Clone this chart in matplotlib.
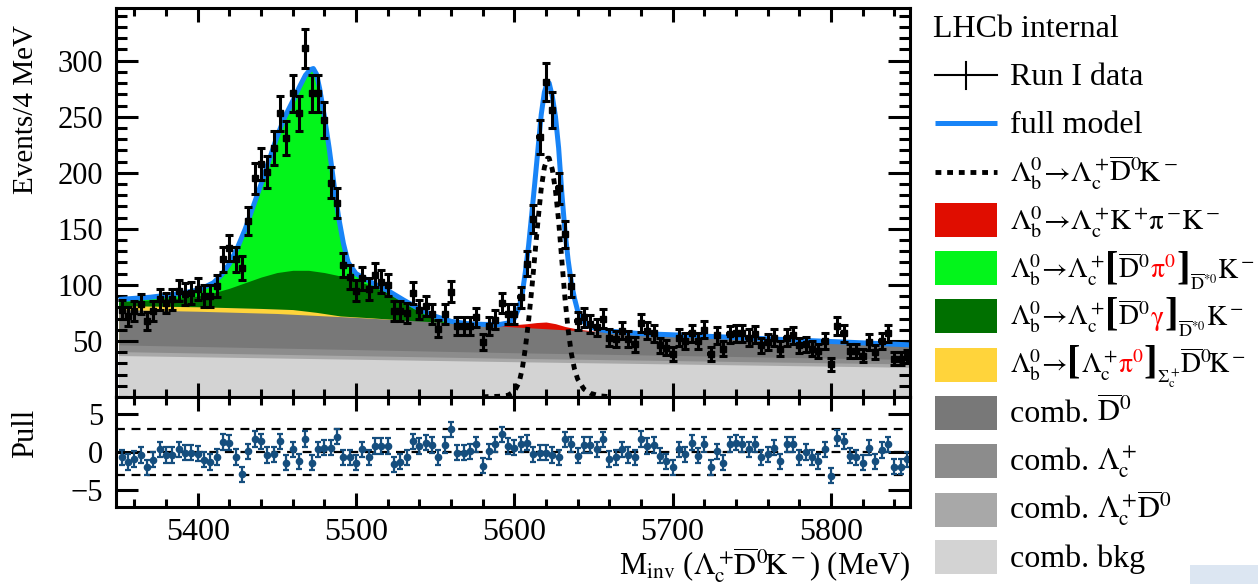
import numpy as np
import matplotlib.pyplot as plt
from matplotlib.lines import Line2D
from matplotlib.patches import Rectangle
from matplotlib.ticker import MultipleLocator

plt.rcParams['font.family'] = ['Liberation Serif', 'DejaVu Serif']
plt.rcParams['mathtext.fontset'] = 'stix'

W, H = 1258, 584

# ---- binned data, 4 MeV bins from 5350 to 5850 ----
bin_start, bin_width = 5350, 4
counts = [78, 72, 77, 83, 68, 77, 87, 84, 87, 95, 92, 93, 96, 90, 90, 99,
          123, 133, 123, 115, 157, 195, 208, 201, 222, 253, 231, 271, 253, 311,
          271, 271, 247, 191, 173, 118, 107, 95, 106, 96, 109, 103, 100, 77,
          77, 75, 93, 78, 81, 74, 61, 74, 94, 63, 63, 63, 71, 49, 63, 69, 84,
          74, 74, 89, 119, 159, 232, 281, 256, 186, 145, 99, 68, 71, 65, 62,
          70, 53, 52, 59, 52, 47, 66, 59, 57, 46, 44, 38, 53, 50, 57, 50, 60,
          38, 55, 43, 56, 57, 57, 53, 56, 46, 49, 53, 43, 53, 55, 46, 47, 43,
          41, 50, 29, 63, 57, 41, 41, 37, 49, 40, 50, 57, 34, 34, 36]
pulls = [-0.7, -1.3, -0.9, -0.4, -2.0, -1.0, 0.35, -0.4, -0.4, 0.35, -0.1,
         -0.1, -0.2, -1.0, -1.3, -0.65, 1.3, 1.2, -0.65, -2.9, 0.1, 1.7, 1.4,
         -0.4, -0.3, 1.4, -1.4, 0.35, -1.2, 1.7, -1.4, 0.35, 0.55, 0.55, 2.0,
         -0.7, -0.7, -1.4, 0.35, -0.7, 0.8, 0.8, 0.8, -1.6, -1.25, -0.7, 1.4,
         0.8, 1.2, 0.9, -0.7, 0.9, 2.95, -0.1, -0.1, 0.1, 1.0, -1.8, 0.1, 1.0,
         2.3, 0.8, 0.55, 1.0, 1.2, -0.3, -0.1, -0.1, -0.4, -0.7, 1.65, 1.0,
         -0.5, 0.9, 0.9, 0.35, 1.65, -0.9, -0.7, 0.35, -0.4, -0.7, 1.7, 0.8,
         0.9, -0.5, -1.2, -2.0, 0.35, -0.3, 1.2, -0.5, 1.0, -2.0, 0.1, -1.4,
         1.0, 1.2, 1.0, 0.35, 1.0, -0.7, -0.3, 0.55, -1.2, 1.0, 1.0, -0.7, 0.0,
         -0.7, -1.2, 0.35, -3.1, 1.85, 1.4, -0.5, -0.7, -1.4, 0.55, -1.2, 0.25,
         1.0, -1.9, -1.9, -0.95]

# ---- fit model, each component curve is the running sum of the stack ----
bkg_x = [5350, 5600, 5850]
bkg_y = [37, 31.5, 26.5]
lcd_y = [40.5, 34.5, 29.5]
lc_y = [46.5, 39.5, 33.5]

combd_x = [5350, 5400, 5450, 5500, 5550, 5600, 5650, 5700, 5750, 5800, 5850]
combd_y = [78, 76.5, 74.5, 71, 67, 62.5, 58.5, 55, 52, 49, 46]

sigc_x = [5350, 5400, 5440, 5460, 5475, 5490, 5510, 5530]
sigc_y = [81.5, 80.5, 79, 78, 75.5, 72.3, 70.6, 68.6]

dgam_x = [5350, 5370, 5390, 5400, 5410, 5420, 5430, 5440, 5450, 5460, 5470,
          5480, 5490, 5500, 5510, 5520, 5530, 5540, 5550, 5556]
dgam_y = [85, 86.5, 88.5, 90, 93, 97, 102, 107, 111, 113, 113, 111, 108, 104,
          99, 93, 84, 76, 69, 66.5]

dpi0_x = [5350, 5370, 5390, 5400, 5405, 5410, 5415, 5420, 5425, 5430, 5435,
          5440, 5445, 5450, 5455, 5460, 5464, 5468, 5471, 5473, 5475, 5477,
          5480, 5483, 5486, 5489, 5492, 5495, 5500, 5505, 5510, 5520, 5530,
          5540, 5550, 5560, 5570, 5576]
dpi0_y = [87, 89, 92.5, 95.5, 98.5, 102, 109, 119, 133, 150, 170, 190, 211,
          232, 250, 264, 276, 287, 292, 293, 288, 275, 250, 222, 190, 160, 137,
          120, 110, 106, 102, 95, 86.5, 78.5, 72, 67.5, 65.5, 64.7]

kpik_x = [5570, 5580, 5590, 5600, 5608, 5614, 5620, 5626, 5632, 5640, 5650, 5660]
kpik_y = [65.2, 64.8, 64.4, 64.5, 65.4, 66.4, 66.9, 65.4, 62.9, 60.6, 58.8, 57.8]

sig_x = [5580, 5590, 5596, 5600, 5603, 5605, 5607, 5609, 5611, 5613, 5615,
         5617, 5619, 5621, 5622, 5624, 5626, 5628, 5630, 5632, 5634, 5636,
         5638, 5640, 5644, 5648, 5654, 5660]
sig_y = [0.2, 0.6, 1.5, 5, 13, 25, 44, 68, 96, 127, 158, 186, 205, 213, 213,
         203, 184, 157, 122, 88, 60, 39, 25, 16, 7, 3.3, 1, 0.3]

full_x = [5350, 5370, 5390, 5400, 5405, 5410, 5415, 5420, 5425, 5430, 5435,
          5440, 5445, 5450, 5455, 5460, 5464, 5468, 5471, 5473, 5475, 5477,
          5480, 5483, 5486, 5489, 5492, 5495, 5500, 5505, 5510, 5520, 5530,
          5540, 5550, 5560, 5570, 5580, 5590, 5596, 5600, 5603, 5605, 5607,
          5609, 5611, 5613, 5615, 5617, 5619, 5621, 5622, 5624, 5626, 5628,
          5630, 5632, 5634, 5636, 5638, 5640, 5644, 5648, 5654, 5660, 5680,
          5700, 5750, 5800, 5850]
full_y = [87, 89, 92.5, 95.5, 98.5, 102, 109, 119, 133, 150, 170, 190, 211,
          232, 250, 264, 276, 287, 292, 293, 288, 275, 250, 222, 190, 160, 137,
          120, 110, 106, 102, 95, 86.5, 78.5, 72, 67.5, 65.5, 64.8, 64.5, 66,
          70, 80, 92, 112, 135, 163, 192, 222, 252, 272, 281, 280, 268, 250,
          222, 182, 148, 122, 102, 88, 77, 67, 62.5, 60, 58.8, 56.5, 55.5, 52.5,
          49.5, 46.5]

c_blue = '#1884f7'
c_pull = '#154e7e'
layers = [  # drawn from the top of the stack downwards
    (dpi0_x, dpi0_y, '#03f51b'),
    (kpik_x, kpik_y, '#e00d00'),
    (dgam_x, dgam_y, '#007000'),
    (sigc_x, sigc_y, '#ffd43b'),
    (combd_x, combd_y, '#787878'),
    (bkg_x, lc_y, '#8c8c8c'),
    (bkg_x, lcd_y, '#a8a8a8'),
    (bkg_x, bkg_y, '#d3d3d3'),
]

fig = plt.figure(figsize=(W / 100, H / 100), dpi=100)
ax = fig.add_axes([115.5 / W, 1 - 397 / H, 794.5 / W, 389 / H])
axp = fig.add_axes([115.5 / W, 1 - 507 / H, 794.5 / W, 110 / H], sharex=ax)

centers = bin_start + bin_width / 2 + bin_width * np.arange(len(counts))
counts = np.array(counts, dtype=float)

for lx, ly, col in layers:
    ax.fill_between(lx, 0, ly, color=col, lw=0)
ax.plot(sig_x, sig_y, color='k', lw=3.5, dashes=(1.2, 1.2))
ax.plot(full_x, full_y, color=c_blue, lw=3.6, solid_capstyle='butt')
ax.errorbar(centers, counts, xerr=bin_width / 2, fmt='none', ecolor='k',
            elinewidth=2.6)
ax.errorbar(centers, counts, yerr=np.sqrt(counts), fmt='s', ms=5, color='k',
            ecolor='k', elinewidth=2.2, capsize=3, capthick=2.2)

ax.set_xlim(5348, 5850)
ax.set_ylim(0, 347)
ax.yaxis.set_major_locator(MultipleLocator(50))
ax.yaxis.set_minor_locator(MultipleLocator(10))
ax.xaxis.set_major_locator(MultipleLocator(100))
ax.xaxis.set_minor_locator(MultipleLocator(20))
ax.set_yticks([50, 100, 150, 200, 250, 300])

# pull panel
for yl in (-3, 0, 3):
    axp.axhline(yl, color='k', lw=1.6, dashes=(4, 3))
axp.errorbar(centers, pulls, yerr=1, fmt='o', ms=4.5, color=c_pull,
             ecolor=c_pull, elinewidth=1.6, capsize=2.5, capthick=1.6)
axp.set_ylim(-7.2, 7.2)
axp.set_yticks([-5, 0, 5])

for a in (ax, axp):
    for s in a.spines.values():
        s.set_linewidth(2.2)
    a.tick_params(which='both', direction='in', top=True, right=True,
                  width=2.2, labelsize=22)
    a.tick_params(axis='y', which='major', length=16, pad=9)
    a.tick_params(axis='y', which='minor', length=8)
    a.tick_params(axis='x', which='major', length=10, pad=8, labelsize=23)
    a.tick_params(axis='x', which='minor', length=5.5)
ax.tick_params(labelbottom=False)
axp.yaxis.set_minor_locator(MultipleLocator(100))

fig.text(26 / W, 1 - 25 / H, 'Events/4 MeV', rotation=90, ha='center',
         va='top', fontsize=21)
fig.text(26 / W, 1 - 409 / H, 'Pull', rotation=90, ha='center', va='top',
         fontsize=22)
fig.text(910 / W, 1 - 575 / H,
         r'M$_{\mathrm{inv}}$ ($\mathrm{\Lambda_c^+\!\overline{D}^0\!K^-}$) (MeV)',
         ha='right', va='baseline', fontsize=22)

# ---- legend, built by hand ----
renderer = fig.canvas.get_renderer()


def put_row(x, base, parts):
    for s, kw in parts:
        kw = dict(kw)
        dy = kw.pop('dy', 0)
        t = fig.text(x / W, 1 - (base + dy) / H, s, ha='left', va='baseline',
                     fontsize=kw.pop('fontsize', 21), **kw)
        x += t.get_window_extent(renderer).width


TXT = {'fontsize': 23}
M = {'fontsize': 20}
LB = {'fontsize': 29, 'fontweight': 'bold'}
RED = {'color': '#ff0000', 'fontsize': 20}
SUB = {'fontsize': 13, 'dy': 11}
lam = r'$\mathrm{\Lambda_b^0\!\rightarrow\!\Lambda_c^+}$'

put_row(933, 37, [('LHCb internal', TXT)])
rows = [
    (85, [('Run I data', TXT)]),
    (133, [('full model', TXT)]),
    (182, [(r'$\mathrm{\Lambda_b^0\!\rightarrow\!\Lambda_c^+\!\overline{D}^0\!K^-}$', {})]),
    (230, [(r'$\mathrm{\Lambda_b^0\!\rightarrow\!\Lambda_c^+\!K^+\!\pi^-\!K^-}$', {})]),
    (278, [(lam, M), ('[', LB), (r'$\mathrm{\overline{D}^0}$', M),
           (r'$\mathrm{\pi^0}$', RED), (']', LB),
           (r'$\mathrm{\overline{D}^{*0}}$', SUB), (r'$\mathrm{K^-}$', M)]),
    (325, [(lam, M), ('[', LB), (r'$\mathrm{\overline{D}^0}$', M),
           (r'$\mathrm{\gamma}$', RED), (']', LB),
           (r'$\mathrm{\overline{D}^{*0}}$', SUB), (r'$\mathrm{K^-}$', M)]),
    (373, [(r'$\mathrm{\Lambda_b^0\!\rightarrow\!}$', M), ('[', LB),
           (r'$\mathrm{\Lambda_c^+}$', M), (r'$\mathrm{\pi^0}$', RED),
           (']', LB), (r'$\mathrm{\Sigma_c^+}$', SUB),
           (r'$\mathrm{\overline{D}^0\!K^-}$', M)]),
    (422, [('comb. ', TXT), (r'$\mathrm{\overline{D}^0}$', {'fontsize': 22})]),
    (470, [('comb. ', TXT), (r'$\mathrm{\Lambda_c^+}$', {'fontsize': 22})]),
    (518, [('comb. ', TXT), (r'$\mathrm{\Lambda_c^+\!\overline{D}^0}$', {'fontsize': 22})]),
    (567, [('comb. bkg', TXT)]),
]
for base, parts in rows:
    put_row(1010, base, parts)


# legend symbols
def seg(x0, x1, y0, y1, **kw):
    fig.add_artist(Line2D([x0 / W, x1 / W], [1 - y0 / H, 1 - y1 / H],
                          transform=fig.transFigure, **kw))


seg(935, 997, 75, 75, color='k', lw=1.5)
seg(966, 966, 62, 89, color='k', lw=1.5)
seg(935, 997, 123, 123, color=c_blue, lw=3.6, solid_capstyle='butt')
seg(935, 997, 172, 172, color='k', lw=3.5, dashes=(1.2, 1.2))
box_cols = ['#e00d00', '#03f51b', '#007000', '#ffd43b', '#787878', '#8c8c8c',
            '#a8a8a8', '#d3d3d3']
box_mid = [220, 268, 316, 365, 413, 461, 510, 557]
for col, ym in zip(box_cols, box_mid):
    fig.add_artist(Rectangle((935 / W, 1 - (ym + 17) / H), 62 / W, 34 / H,
                             transform=fig.transFigure, color=col, lw=0))

fig.add_artist(Rectangle((1190 / W, 0), 68 / W, 19 / H,
                         transform=fig.transFigure, color='#dce6f2', lw=0))

fig.savefig('out.png', dpi=100)
